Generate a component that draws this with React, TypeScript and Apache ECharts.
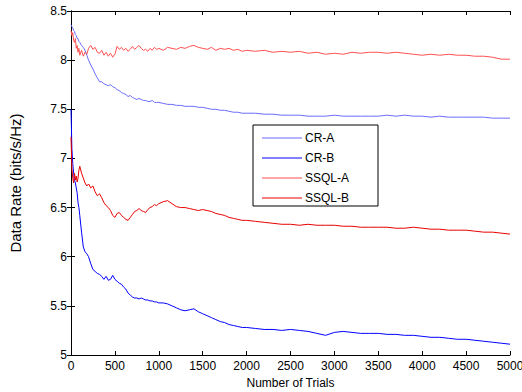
import React, { useEffect, useRef } from "react";
import * as echarts from "echarts";

const trials = [
  0, 10, 20, 30, 40, 50, 60, 70, 80, 90, 100, 120, 140, 160, 180, 200,
  225, 250, 275, 300, 325, 350, 375, 400, 425, 450, 475, 500, 525, 550, 575, 600,
  625, 650, 675, 700, 725, 750, 775, 800, 825, 850, 875, 900, 925, 950, 975, 1000,
  1050, 1100, 1150, 1200, 1250, 1300, 1350, 1400, 1450, 1500, 1550, 1600, 1650, 1700,
  1750, 1800, 1850, 1900, 1950, 2000,
  2100, 2200, 2300, 2400, 2500, 2600, 2700, 2800, 2900, 3000, 3100, 3200, 3300, 3400,
  3500, 3600, 3700, 3800, 3900, 4000, 4100, 4200, 4300, 4400, 4500, 4600, 4700, 4800,
  4900, 5000,
];

const crA = [
  8.36, 8.34, 8.33, 8.30, 8.29, 8.26, 8.25, 8.22, 8.22, 8.19, 8.18, 8.15, 8.13, 8.10, 8.05, 8.00,
  7.95, 7.91, 7.86, 7.82, 7.78, 7.78, 7.76, 7.75, 7.74, 7.75, 7.73, 7.72, 7.70, 7.69, 7.67, 7.66,
  7.65, 7.63, 7.64, 7.62, 7.61, 7.60, 7.61, 7.60, 7.59, 7.59, 7.58, 7.58, 7.59, 7.57, 7.57, 7.57,
  7.56, 7.55, 7.55, 7.54, 7.54, 7.53, 7.53, 7.53, 7.52, 7.52, 7.51, 7.50, 7.50, 7.49,
  7.49, 7.48, 7.47, 7.47, 7.46, 7.46,
  7.46, 7.45, 7.45, 7.44, 7.44, 7.44, 7.43, 7.43, 7.43, 7.44, 7.43, 7.43, 7.43, 7.43,
  7.43, 7.44, 7.43, 7.44, 7.43, 7.43, 7.42, 7.43, 7.42, 7.42, 7.42, 7.42, 7.42, 7.41,
  7.41, 7.41,
];

const crB = [
  7.50, 7.10, 6.95, 6.85, 6.78, 6.75, 6.70, 6.65, 6.55, 6.50, 6.42, 6.25, 6.10, 6.05, 6.03, 6.00,
  5.93, 5.87, 5.85, 5.83, 5.82, 5.80, 5.77, 5.80, 5.76, 5.77, 5.81, 5.77, 5.75, 5.73, 5.72, 5.69,
  5.67, 5.63, 5.61, 5.59, 5.58, 5.58, 5.57, 5.58, 5.57, 5.56, 5.56, 5.55, 5.55, 5.54, 5.54, 5.53,
  5.53, 5.52, 5.50, 5.48, 5.46, 5.45, 5.46, 5.47, 5.44, 5.42, 5.40, 5.38, 5.36, 5.34,
  5.33, 5.31, 5.30, 5.29, 5.28, 5.28,
  5.27, 5.26, 5.26, 5.25, 5.26, 5.25, 5.24, 5.22, 5.20, 5.23, 5.24, 5.23, 5.22, 5.22,
  5.22, 5.21, 5.21, 5.20, 5.20, 5.19, 5.18, 5.18, 5.17, 5.16, 5.16, 5.15, 5.14, 5.13,
  5.12, 5.11,
];

const ssqlA = [
  8.30, 8.25, 8.28, 8.20, 8.18, 8.22, 8.12, 8.15, 8.08, 8.12, 8.05, 8.10, 8.04, 8.08, 8.06, 8.12,
  8.15, 8.11, 8.13, 8.08, 8.07, 8.10, 8.05, 8.08, 8.04, 8.07, 8.03, 8.06, 8.14, 8.11, 8.13, 8.10,
  8.12, 8.09, 8.11, 8.14, 8.11, 8.13, 8.15, 8.12, 8.10, 8.11, 8.09, 8.12, 8.10, 8.13, 8.11, 8.12,
  8.10, 8.13, 8.12, 8.11, 8.13, 8.12, 8.14, 8.15, 8.13, 8.12, 8.11, 8.13, 8.10, 8.12,
  8.11, 8.12, 8.10, 8.11, 8.09, 8.10,
  8.09, 8.10, 8.08, 8.09, 8.08, 8.09, 8.07, 8.08, 8.06, 8.07, 8.06, 8.08, 8.07, 8.08,
  8.08, 8.07, 8.08, 8.07, 8.06, 8.05, 8.06, 8.05, 8.06, 8.05, 8.05, 8.04, 8.04, 8.03,
  8.01, 8.01,
];

const ssqlB = [
  7.22, 6.90, 6.80, 6.75, 6.85, 6.78, 6.82, 6.76, 6.80, 6.88, 6.92, 6.85, 6.80, 6.75, 6.72, 6.74,
  6.70, 6.72, 6.66, 6.62, 6.64, 6.60, 6.55, 6.52, 6.50, 6.47, 6.42, 6.40, 6.44, 6.45, 6.42, 6.40,
  6.38, 6.37, 6.40, 6.43, 6.46, 6.47, 6.49, 6.47, 6.46, 6.45, 6.48, 6.50, 6.51, 6.53, 6.52, 6.54,
  6.56, 6.57, 6.54, 6.51, 6.50, 6.50, 6.49, 6.48, 6.47, 6.48, 6.47, 6.46, 6.44, 6.43,
  6.42, 6.40, 6.39, 6.38, 6.37, 6.37,
  6.36, 6.35, 6.34, 6.33, 6.33, 6.32, 6.33, 6.32, 6.32, 6.32, 6.31, 6.31, 6.30, 6.30,
  6.30, 6.30, 6.29, 6.29, 6.30, 6.29, 6.28, 6.28, 6.27, 6.27, 6.27, 6.26, 6.25, 6.25,
  6.24, 6.23,
];

const seriesNames = ["CR-A", "CR-B", "SSQL-A", "SSQL-B"];
const seriesValues = [crA, crB, ssqlA, ssqlB];
const seriesColors = ["#6b6bff", "#0000ff", "#ff5050", "#e80000"];

const FONT = "Liberation Sans, Arial, Helvetica, sans-serif";

export default function App() {
  const ref = useRef<HTMLDivElement>(null);
  useEffect(() => {
    if (!ref.current) return;
    const chart = echarts.init(ref.current, undefined, { renderer: "svg" });
    const axisCommon = {
      type: "value" as const,
      axisLine: { show: true, lineStyle: { color: "#000", width: 1 } },
      axisTick: { show: true, inside: true, length: 4, lineStyle: { color: "#000" } },
      splitLine: { show: false },
    };
    chart.setOption({
      animation: false,
      backgroundColor: "#fff",
      grid: { left: 71, right: 12, top: 11, bottom: 37, outerBoundsMode: "none", containLabel: false },
      legend: {
        orient: "vertical",
        left: 253,
        top: 125,
        data: seriesNames,
        icon: "rect",
        itemWidth: 40,
        itemHeight: 1,
        itemGap: 8,
        padding: [7, 29, 2, 9],
        borderColor: "#000",
        borderWidth: 1,
        borderRadius: 0,
        backgroundColor: "#fff",
        textStyle: { fontFamily: FONT, fontSize: 12, color: "#000", padding: [0, 0, 0, -2] },
      },
      xAxis: [
        {
          ...axisCommon,
          min: 0,
          max: 5000,
          interval: 500,
          name: "Number of Trials",
          nameLocation: "middle",
          nameGap: 21,
          nameTextStyle: { fontFamily: FONT, fontSize: 12, color: "#000" },
          axisLabel: {
            fontFamily: FONT,
            fontSize: 12,
            color: "#000",
            margin: 5,
            formatter: (v: number) => String(v),
          },
        },
        {
          ...axisCommon,
          position: "top",
          min: 0,
          max: 5000,
          interval: 500,
          axisLabel: { show: false },
        },
      ],
      yAxis: [
        {
          ...axisCommon,
          min: 5,
          max: 8.5,
          interval: 0.5,
          name: "Data Rate (bits/s/Hz)",
          nameLocation: "middle",
          nameGap: 48,
          nameTextStyle: { fontFamily: FONT, fontSize: 15, color: "#000" },
          axisLabel: {
            fontFamily: FONT,
            fontSize: 12,
            color: "#000",
            margin: 4,
            formatter: (v: number) => String(v),
          },
        },
        {
          ...axisCommon,
          position: "right",
          min: 5,
          max: 8.5,
          interval: 0.5,
          axisLabel: { show: false },
        },
      ],
      series: seriesNames.map((name, i) => ({
        name,
        type: "line",
        symbol: "none",
        showSymbol: false,
        color: seriesColors[i],
        lineStyle: { width: 1, color: seriesColors[i] },
        data: trials.map((t, j) => [t, seriesValues[i][j]]),
      })),
    });
    return () => chart.dispose();
  }, []);
  return (
    <div
      ref={ref}
      style={{ position: "fixed", left: 0, top: 0, width: 522, height: 392 }}
    />
  );
}
